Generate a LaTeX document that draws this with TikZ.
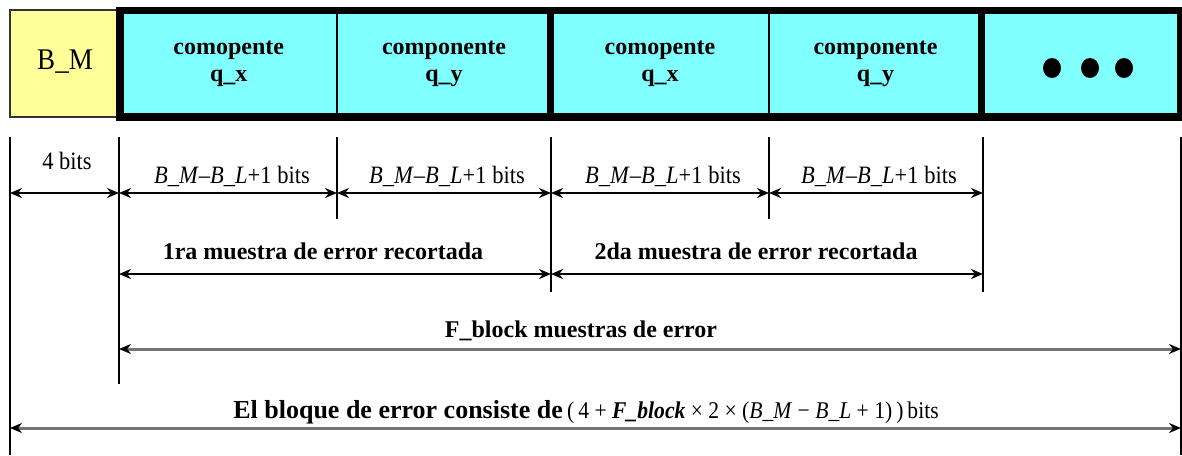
\documentclass[tikz,border=0pt]{standalone}
\usepackage{fontspec}
\setmainfont{Liberation Serif}
\newfontfamily\cotafont{Liberation Serif}[FakeStretch=0.9]
\usetikzlibrary{arrows.meta}
\definecolor{campo}{HTML}{80FFFF}
\definecolor{cabecera}{HTML}{FFFF99}

\begin{document}
\begin{tikzpicture}[x=0.5pt, y=-0.5pt,
  celda/.style={draw=black, line width=0.75pt, fill=campo, rectangle, inner sep=0pt, minimum height=52.5pt, font=\bfseries\fontsize{12}{13.5}\selectfont, align=center},
  grueso/.style={draw=black, line width=3.75pt},
  linea/.style={draw=black, line width=0.75pt},
  cota/.style={draw=black, line width=1pt, {Stealth[length=6pt,width=5pt]}-{Stealth[length=6pt,width=5pt]}},
  cotagris/.style={draw=black!55, line width=1.5pt, {Stealth[length=6pt,width=5pt,black]}-{Stealth[length=6pt,width=5pt,black]}},
  etiq/.style={anchor=base, inner sep=0pt, font=\cotafont\fontsize{12.5}{14}\selectfont},
  etiqb/.style={anchor=base, inner sep=0pt, font=\bfseries\fontsize{12}{14}\selectfont}
]
\useasboundingbox (0,0) rectangle (1182,455);

% cabecera y campos
\node[celda, fill=cabecera, draw=black!80, minimum width=55pt, minimum height=53.5pt, font=\cotafont\fontsize{15}{17}\selectfont] (bm) at (65,63.5) {\raisebox{3.5pt}{B\_M}};
\node[celda, minimum width=108.25pt] (qx1) at (228.75,63.5) {comopente\\q\_x};
\node[celda, minimum width=107pt]    (qy1) at (444,63.5)    {componente\\q\_y};
\node[celda, minimum width=109pt]    (qx2) at (660,63.5)    {comopente\\q\_x};
\node[celda, minimum width=106.5pt]  (qy2) at (875.5,63.5)  {componente\\q\_y};
\node[celda, minimum width=99pt]     (mas) at (1081,63.5)   {};
\foreach \x in {1052,1090,1124} \fill (\x,68) ellipse [x radius=4.5pt, y radius=5pt];

\draw[grueso] (qx1.north west) rectangle (mas.south east);
\draw[grueso] (qx2.north west) -- (qx2.south west);
\draw[grueso] (mas.north west) -- (mas.south west);

% lineas de referencia
\foreach \i/\x/\yb in {0/10/455, 1/119/384, 2/337/219, 3/551/292, 4/769/219, 5/983/292, 6/1181/455} {
  \coordinate (l\i) at (\x,137);
  \coordinate (b\i) at (\x,\yb);
  \draw[linea] (l\i) -- (b\i);
}
\coordinate (r1) at (0,193);
\coordinate (r2) at (0,274);
\coordinate (r3) at (0,349);
\coordinate (r4) at (0,428);

% cotas
\draw[cota] (l0 |- r1) -- (l1 |- r1);
\draw[cota] (l1 |- r1) -- (l2 |- r1);
\draw[cota] (l2 |- r1) -- (l3 |- r1);
\draw[cota] (l3 |- r1) -- (l4 |- r1);
\draw[cota] (l4 |- r1) -- (l5 |- r1);
\draw[cota] (l1 |- r2) -- (l3 |- r2);
\draw[cota] (l3 |- r2) -- (l5 |- r2);
\draw[cotagris] (l1 |- r3) -- (l6 |- r3);
\draw[cotagris] (l0 |- r4) -- (l6 |- r4);

\node[etiq] (c4)  at (67,169)  {4 bits};
\node[etiq] (cx1) at (232,183) {\textit{B\_M}–\textit{B\_L}+1 bits};
\node[etiq] (cy1) at (447,183) {\textit{B\_M}–\textit{B\_L}+1 bits};
\node[etiq] (cx2) at (663,183) {\textit{B\_M}–\textit{B\_L}+1 bits};
\node[etiq] (cy2) at (879,183) {\textit{B\_M}–\textit{B\_L}+1 bits};
\node[etiqb] (m1) at (323,259) {1ra muestra de error recortada};
\node[etiqb] (m2) at (756,259) {2da muestra de error recortada};
\node[etiqb] (fb) at (581,337) {F\_block muestras de error};
\node[etiqb, font=\bfseries\fontsize{13}{16}\selectfont] (eb) at (586,418) {El bloque de error consiste de\,{\mdseries\cotafont\fontsize{12}{14}\selectfont(\,4 + \textbf{\textit{F\_block}} × 2 × (\textit{B\_M} − \textit{B\_L} + 1)\,)\,bits}};
\end{tikzpicture}
\end{document}
